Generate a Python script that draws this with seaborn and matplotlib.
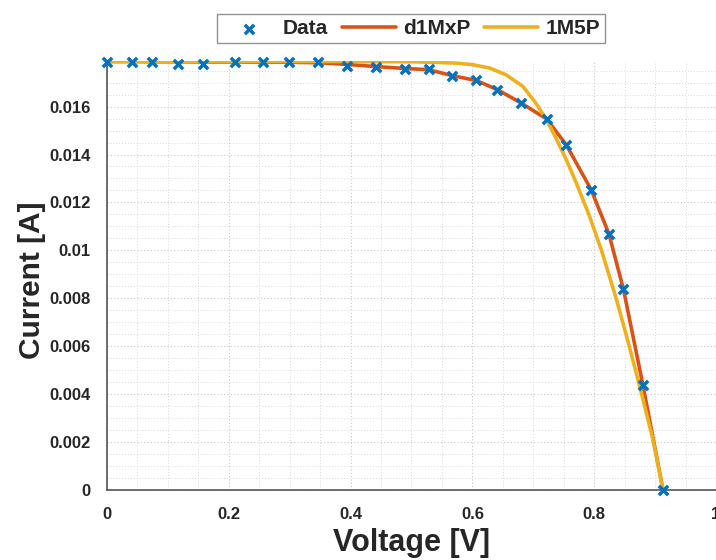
import numpy as np
import pandas as pd
import matplotlib
matplotlib.use("Agg")
import matplotlib.pyplot as plt
import seaborn as sns
from matplotlib.ticker import MultipleLocator, FixedLocator

# ---- data ----
data_v = [0.0, 0.041, 0.074, 0.117, 0.158, 0.211, 0.256, 0.299, 0.346, 0.394, 0.441, 0.489,
          0.528, 0.567, 0.606, 0.640, 0.680, 0.722, 0.754, 0.795, 0.824, 0.848, 0.880, 0.913]
data_i = [0.01788, 0.01784, 0.01788, 0.01779, 0.01779, 0.01784, 0.01788, 0.01788, 0.01784,
          0.01770, 0.01767, 0.01757, 0.01757, 0.01726, 0.01709, 0.01670, 0.01615, 0.01548,
          0.01441, 0.01253, 0.01070, 0.00838, 0.00438, 0.0]

d1mxp_v = [0.0, 0.041, 0.074, 0.117, 0.158, 0.211, 0.256, 0.299, 0.346, 0.394, 0.441, 0.489,
           0.528, 0.567, 0.606, 0.640, 0.680, 0.722, 0.754, 0.795, 0.824, 0.848, 0.880, 0.913]
d1mxp_i = [0.01788, 0.01788, 0.01787, 0.01787, 0.01786, 0.01786, 0.01785, 0.01785, 0.01783,
           0.01776, 0.01767, 0.01759, 0.01754, 0.01729, 0.01709, 0.01672, 0.01615, 0.01548,
           0.01441, 0.01253, 0.01070, 0.00838, 0.00438, 0.0]

m5p_v = [0.0, 0.2, 0.4, 0.5, 0.546, 0.575, 0.600, 0.628, 0.655, 0.683, 0.704, 0.721,
         0.737, 0.753, 0.770, 0.792, 0.812, 0.836, 0.855, 0.874, 0.896, 0.913]
m5p_i = [0.01788, 0.01788, 0.01788, 0.01787, 0.01784, 0.01781, 0.01775, 0.01761, 0.01733,
         0.01684, 0.01615, 0.01548, 0.01470, 0.01385, 0.01285, 0.01145, 0.01000, 0.00800,
         0.00625, 0.00440, 0.00215, 0.0]

x_ticks = [0, 0.2, 0.4, 0.6, 0.8, 1.0]
x_tick_labels = ["0", "0.2", "0.4", "0.6", "0.8", "1"]
y_ticks = [0, 0.002, 0.004, 0.006, 0.008, 0.01, 0.012, 0.014, 0.016]
y_tick_labels = ["0", "0.002", "0.004", "0.006", "0.008", "0.01", "0.012", "0.014", "0.016"]

BLUE = "#0072BD"
RED = "#D95319"
YELLOW = "#EDB120"

sns.set_theme(style="white")
FONT = ["Liberation Sans", "DejaVu Sans"]
plt.rcParams["font.family"] = FONT

fig = plt.figure(figsize=(7.16, 5.6), dpi=100)
ax = fig.add_axes([0.1494, 0.125, 0.8506, 0.766])

df_data = pd.DataFrame({"V": data_v, "I": data_i})
df_red = pd.DataFrame({"V": d1mxp_v, "I": d1mxp_i})
df_yel = pd.DataFrame({"V": m5p_v, "I": m5p_i})

sns.lineplot(data=df_red, x="V", y="I", ax=ax, color=RED, linewidth=2.6,
             label="d1MxP", sort=False, zorder=2)
sns.lineplot(data=df_yel, x="V", y="I", ax=ax, color=YELLOW, linewidth=2.6,
             label="1M5P", sort=False, zorder=3)
sns.scatterplot(data=df_data, x="V", y="I", ax=ax, marker="x", color=BLUE,
                s=45, linewidth=2.5, label="Data", zorder=4, clip_on=False)

ax.set_xlim(0, 1)
ax.set_ylim(0, 0.0179)

ax.xaxis.set_major_locator(FixedLocator(x_ticks))
ax.set_xticklabels(x_tick_labels)
ax.yaxis.set_major_locator(FixedLocator(y_ticks))
ax.set_yticklabels(y_tick_labels)
ax.xaxis.set_minor_locator(MultipleLocator(0.05))
ax.yaxis.set_minor_locator(MultipleLocator(0.0005))

ax.grid(True, which="major", linestyle=(0, (1, 2)), color="#c8c8c8", linewidth=0.8)
ax.grid(True, which="minor", linestyle=(0, (1, 2)), color="#d8d8d8", linewidth=0.7)
ax.set_axisbelow(True)

for s in ["top", "right"]:
    ax.spines[s].set_visible(False)
for s in ["left", "bottom"]:
    ax.spines[s].set_color("#555555")
    ax.spines[s].set_linewidth(1.2)

ax.tick_params(axis="both", which="major", direction="in", length=6, width=1,
               color="#444444", labelsize=12, labelcolor="#262626")
ax.tick_params(axis="y", which="major", pad=11.5)
ax.tick_params(axis="x", which="major", pad=12)
ax.tick_params(axis="both", which="minor", length=0)
for lab in ax.get_xticklabels() + ax.get_yticklabels():
    lab.set_fontweight("bold")

ax.set_xlabel("Voltage [V]", fontsize=22, fontweight="bold", color="#262626", va="center")
ax.set_ylabel("Current [A]", fontsize=21.5, fontweight="bold", color="#262626", va="center")
ax.xaxis.set_label_coords(0.5, -0.124)
ax.yaxis.set_label_coords(-0.1225, 0.49)

handles, labels = ax.get_legend_handles_labels()
order = [labels.index("Data"), labels.index("d1MxP"), labels.index("1M5P")]
leg = ax.legend([handles[i] for i in order], [labels[i] for i in order],
                loc="center", bbox_to_anchor=(0.574, 0.949), bbox_transform=fig.transFigure,
                ncol=3, frameon=True, fancybox=False, edgecolor="#777777",
                prop={"weight": "bold", "size": 15, "family": FONT},
                handlelength=2.6, columnspacing=0.65, handletextpad=0.35,
                borderpad=0.22)
leg.get_frame().set_linewidth(1.0)

fig.savefig("out.png", dpi=100)
